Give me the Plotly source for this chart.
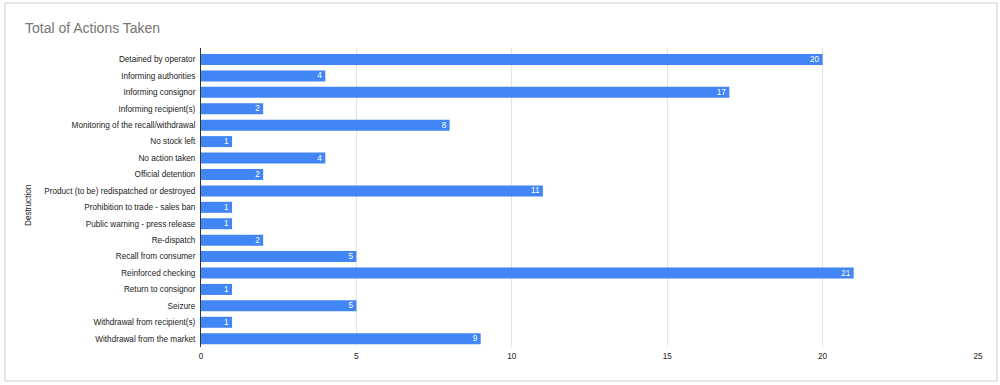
import plotly.graph_objects as go

categories = [
    "Detained by operator", "Informing authorities", "Informing consignor",
    "Informing recipient(s)", "Monitoring of the recall/withdrawal", "No stock left",
    "No action taken", "Official detention", "Product (to be) redispatched or destroyed",
    "Prohibition to trade - sales ban", "Public warning - press release", "Re-dispatch",
    "Recall from consumer", "Reinforced checking", "Return to consignor", "Seizure",
    "Withdrawal from recipient(s)", "Withdrawal from the market",
]
values = [20, 4, 17, 2, 8, 1, 4, 2, 11, 1, 1, 2, 5, 21, 1, 5, 1, 9]
x_ticks = [0, 5, 10, 15, 20, 25]

W, H = 1000, 385
ml, mr, mt, mb = 201, 22, 48, 38
pw, ph = W - ml - mr, H - mt - mb
FS = 8.2

fig = go.Figure(go.Bar(
    x=values, y=categories, orientation="h",
    marker=dict(color="#4285F4", line=dict(width=0)),
    text=values, textposition="inside", insidetextanchor="end", textangle=0,
    textfont=dict(color="white", size=FS, family="Liberation Sans"),
    cliponaxis=False,
))

fig.update_layout(
    width=W, height=H,
    margin=dict(l=ml, r=mr, t=mt, b=mb),
    paper_bgcolor="white", plot_bgcolor="white",
    bargap=0.33,
    showlegend=False,
    font=dict(family="Liberation Sans", size=FS, color="#222222"),
    title=dict(text="Total of Actions Taken", x=25 / W, xref="container", xanchor="left",
               y=1 - 28 / H, yref="container", yanchor="middle",
               font=dict(size=14, color="#757575", family="Liberation Sans")),
    xaxis=dict(range=[0, 25], tickvals=x_ticks, showgrid=True, gridcolor="#e3e3e3",
               gridwidth=1, zeroline=False, showline=False, ticks="",
               ticklabelstandoff=3, tickfont=dict(size=FS, color="#222222")),
    yaxis=dict(range=[len(categories) - 0.495, -0.70], showline=True, linecolor="#333333",
               linewidth=1, showgrid=False, ticks="", ticklabelstandoff=3,
               tickfont=dict(size=FS, color="#222222")),
    uniformtext=dict(minsize=7, mode="show"),
)

fig.add_annotation(text="Destruction", textangle=-90, xref="paper", yref="paper",
                   x=(28 - ml) / pw, y=(347 - 205) / ph, showarrow=False,
                   font=dict(size=FS, color="#222222"), xanchor="center", yanchor="middle")

fig.add_shape(type="rect", xref="paper", yref="paper",
              x0=(5 - ml) / pw, x1=(997 - ml) / pw,
              y0=(347 - 381) / ph, y1=(347 - 3) / ph,
              line=dict(color="#cccccc", width=1), fillcolor="rgba(0,0,0,0)", layer="below")

fig.write_html("out.html", config={"displayModeBar": False},
               post_script="document.body.style.margin='0';")
